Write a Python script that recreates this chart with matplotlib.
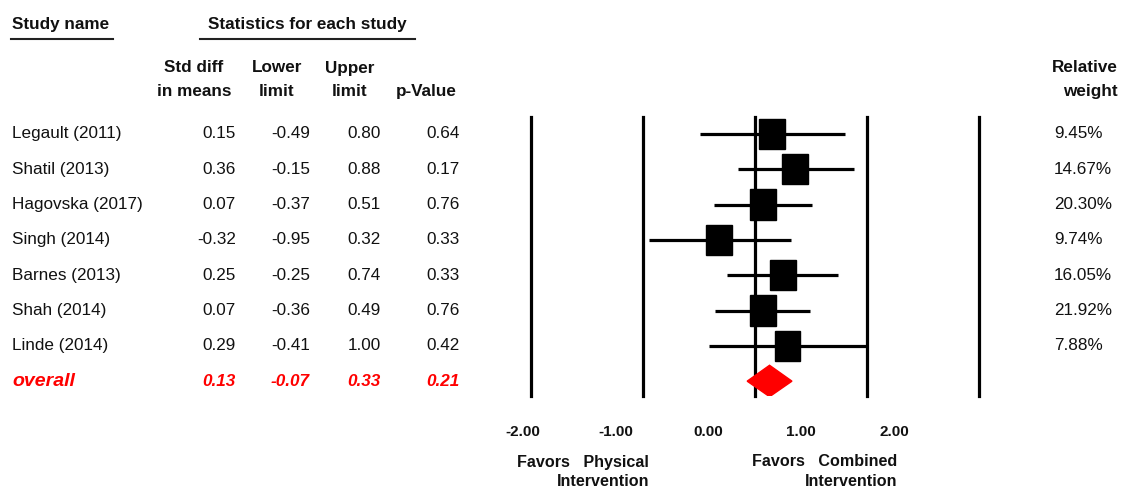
import matplotlib
matplotlib.use('Agg')
import matplotlib.pyplot as plt
from matplotlib import transforms, font_manager
from matplotlib.patches import Rectangle, Polygon

studies = ['Legault (2011)', 'Shatil (2013)', 'Hagovska (2017)', 'Singh (2014)',
           'Barnes (2013)', 'Shah (2014)', 'Linde (2014)']
smd = [0.15, 0.36, 0.07, -0.32, 0.25, 0.07, 0.29]
lower = [-0.49, -0.15, -0.37, -0.95, -0.25, -0.36, -0.41]
upper = [0.80, 0.88, 0.51, 0.32, 0.74, 0.49, 1.00]
pval = [0.64, 0.17, 0.76, 0.33, 0.33, 0.76, 0.42]
weight = [9.45, 14.67, 20.30, 9.74, 16.05, 21.92, 7.88]
ov_smd, ov_lo, ov_hi, ov_p = 0.13, -0.07, 0.33, 0.21
ticks = [-2, -1, 0, 1, 2]

FONT = 'Liberation Sans'
try:
    font_manager.findfont('Liberation Sans Narrow', fallback_to_default=False)
    NARROW, TSIZE = 'Liberation Sans Narrow', 12
except Exception:
    NARROW, TSIZE = FONT, 11
plt.rcParams['font.family'] = FONT

W, H = 1121, 493
fig = plt.figure(figsize=(W / 100, H / 100), dpi=100)
fx = lambda p: p / W
fy = lambda p: 1 - p / H

# forest panel: -2 at px 531, 2 at px 979; rows 0..7 at y 134 + 35.3*i
ax = fig.add_axes([fx(531), fy(396), fx(979) - fx(531), (396 - 117) / H])
ax.set_xlim(-2, 2)
ax.set_ylim(7.42, -0.48)
ax.axis('off')
for t in ticks:
    ax.axvline(t, color='k', lw=2.3, clip_on=False)
n = len(studies)
ax.hlines(range(n), lower, upper, color='k', lw=2.3)
for i, m in enumerate(smd):
    ax.add_patch(Rectangle((m - 0.115, i - 0.43), 0.23, 0.86, color='k', zorder=3))
ax.add_patch(Polygon([(ov_lo, n), (ov_smd, n - 0.45), (ov_hi, n), (ov_smd, n + 0.44)],
                     closed=True, color='#ff0000', zorder=3))

tr = transforms.blended_transform_factory(fig.transFigure, ax.transData)
txt = dict(fontsize=12.3, color='#111111', va='center', transform=tr)
for i in range(n):
    fig.text(fx(12), i, studies[i], ha='left', **txt)
    fig.text(fx(236), i, f'{smd[i]:.2f}', ha='right', **txt)
    fig.text(fx(310), i, f'{lower[i]:.2f}', ha='right', **txt)
    fig.text(fx(381), i, f'{upper[i]:.2f}', ha='right', **txt)
    fig.text(fx(460), i, f'{pval[i]:.2f}', ha='right', **txt)
    fig.text(fx(1054), i, f'{weight[i]:.2f}%', ha='left', **txt)
red = dict(fontsize=12.3, color='#ff0000', va='center', transform=tr,
           fontweight='bold', fontstyle='italic')
fig.text(fx(12), n, 'overall', ha='left', **{**red, 'fontsize': 14})
fig.text(fx(236), n, f'{ov_smd:.2f}', ha='right', **red)
fig.text(fx(310), n, f'{ov_lo:.2f}', ha='right', **red)
fig.text(fx(381), n, f'{ov_hi:.2f}', ha='right', **red)
fig.text(fx(460), n, f'{ov_p:.2f}', ha='right', **red)

# headers
hd = dict(fontsize=12.3, fontweight='bold', color='#111111', va='center')
fig.text(fx(12), fy(25), 'Study name', ha='left', **hd)
fig.text(fx(307), fy(25), 'Statistics for each study', ha='center', **hd)
fig.add_artist(plt.Line2D([fx(11), fx(113)], [fy(39), fy(39)], color='#222222', lw=1.5))
fig.add_artist(plt.Line2D([fx(200), fx(415)], [fy(39), fy(39)], color='#222222', lw=1.5))
for x, l1, l2 in [(194, 'Std diff', 'in means'), (277, 'Lower', 'limit'), (350, 'Upper', 'limit')]:
    fig.text(fx(x), fy(68), l1, ha='center', **hd)
    fig.text(fx(x), fy(92), l2, ha='center', **hd)
fig.text(fx(426), fy(92), 'p-Value', ha='center', **hd)
fig.text(fx(1118), fy(68), 'Relative', ha='right', **hd)
fig.text(fx(1118), fy(92), 'weight', ha='right', **hd)

# tick labels (offset scale as in the original)
lab = fig.add_axes([fx(523), fy(440), fx(894) - fx(523), 16 / H])
lab.set_xlim(-2, 2)
lab.axis('off')
for t in ticks:
    lab.text(t, 0.5, f'{t:.2f}', ha='center', va='center', transform=lab.get_xaxis_transform(),
             fontsize=TSIZE, fontweight='bold', family=NARROW, color='#111111')

fv = dict(fontsize=11.6, fontweight='bold', color='#111111', va='center')
fig.text(fx(649), fy(462), 'Favors   Physical', ha='right', **fv)
fig.text(fx(649), fy(481), 'Intervention', ha='right', **fv)
fig.text(fx(897), fy(462), 'Favors   Combined', ha='right', **fv)
fig.text(fx(897), fy(481), 'Intervention', ha='right', **fv)

fig.savefig('out.png', dpi=100)
